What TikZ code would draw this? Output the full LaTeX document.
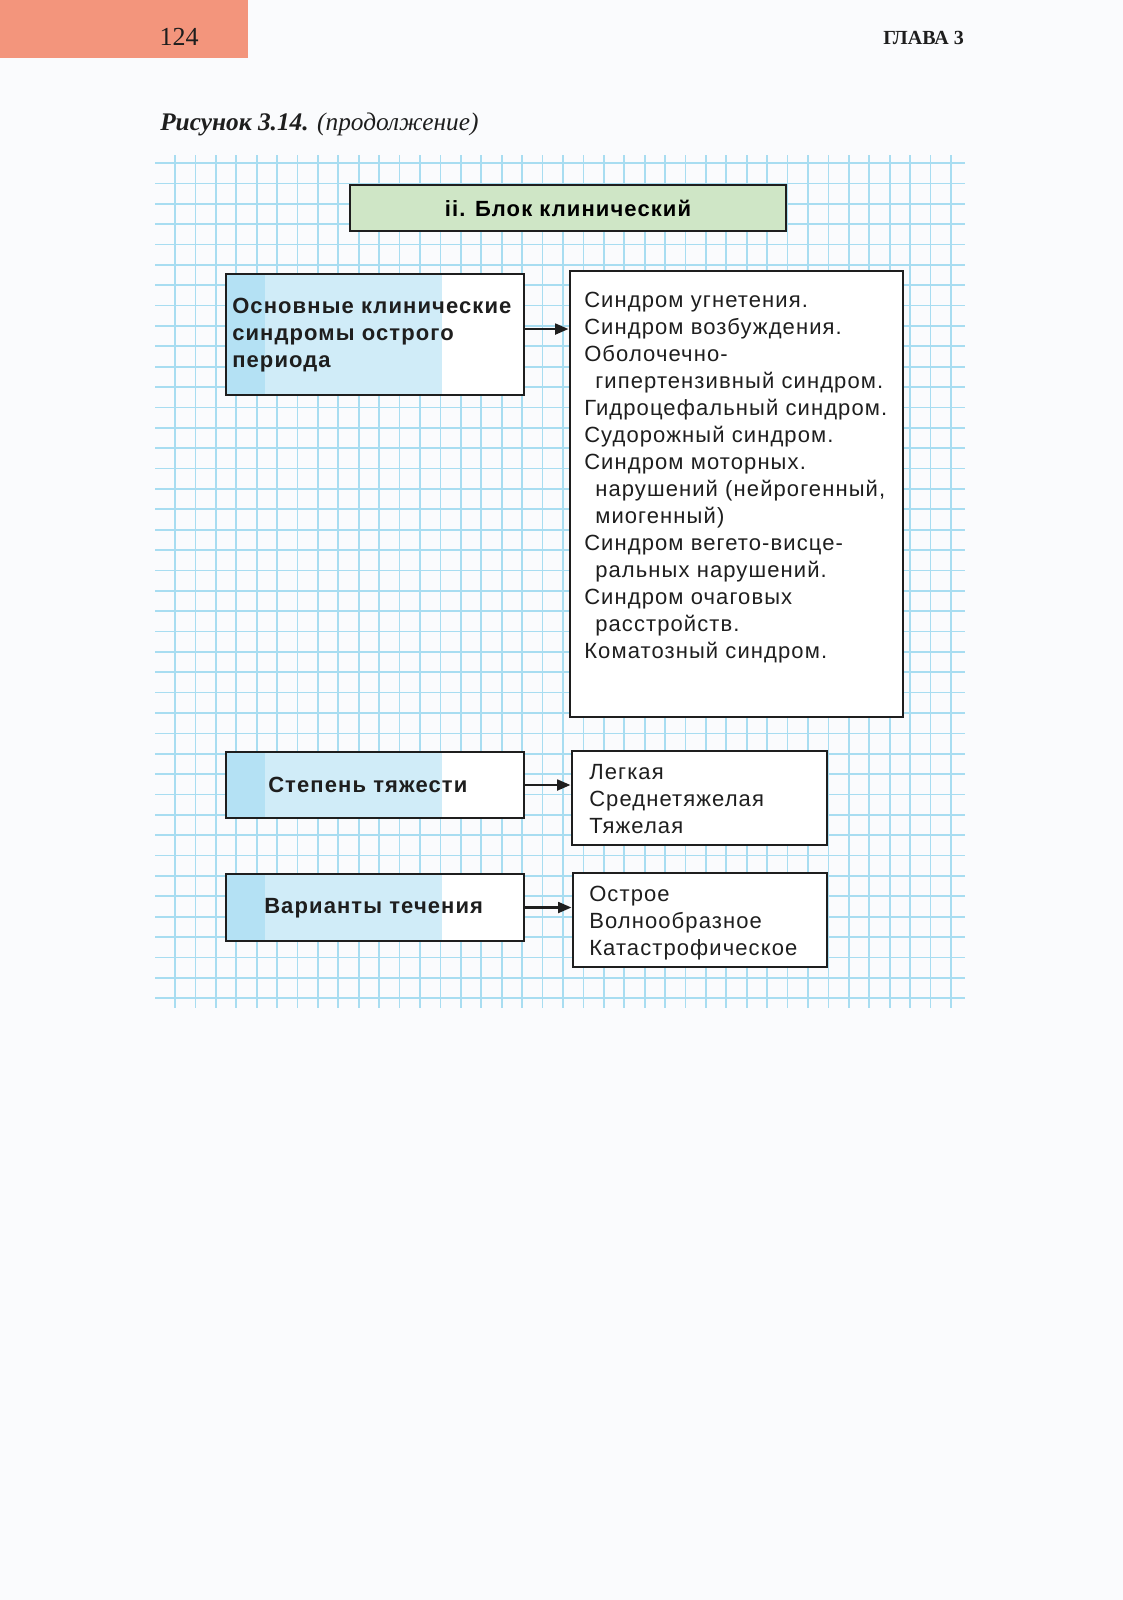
\documentclass[tikz,border=0pt]{standalone}
\usepackage{fontspec}
\setmainfont{Liberation Serif}
\newfontfamily\boxfont[LetterSpace=5]{Liberation Sans}
\usetikzlibrary{arrows.meta}
\definecolor{pagebg}{RGB}{250,251,253}
\definecolor{salmon}{RGB}{243,149,124}
\definecolor{gridblue}{RGB}{168,221,241}
\definecolor{stripdark}{RGB}{180,225,244}
\definecolor{striplight}{RGB}{208,236,248}
\definecolor{titlegreen}{RGB}{207,230,198}
\definecolor{inkc}{RGB}{30,30,30}
\newcommand{\bxf}{\boxfont\fontsize{16.5pt}{20.25pt}\selectfont}
\begin{document}
\begin{tikzpicture}[x=0.75pt,y=-0.75pt,
  gridline/.style={draw=gridblue,line width=1.3pt},
  frame/.style={draw=inkc,line width=2.2pt,inner sep=0pt,anchor=center},
  lbox/.style={frame,fill=white,minimum width=223.5pt,
    path picture={
      \fill[stripdark] (path picture bounding box.north west) rectangle ([xshift=29.25pt]path picture bounding box.south west);
      \fill[striplight] ([xshift=29.25pt]path picture bounding box.north west) rectangle ([xshift=162pt]path picture bounding box.south west);
    }},
  rbox/.style={frame,fill=white},
  txt/.style={inner sep=0pt,anchor=base west,text=inkc},
  arr/.style={draw=inkc,line width=2pt,-{Triangle[length=10pt,width=8pt]}}
]
\fill[pagebg] (0,0) rectangle (1123,1600);
% header
\fill[salmon] (0,0) rectangle (248,58);
\node[txt,anchor=base,font=\fontsize{19.5pt}{22pt}\selectfont] (pagenum) at (179,45) {124};
\node[txt,font=\fontsize{15pt}{17pt}\selectfont\bfseries] (chapter) at (883,44) {ГЛАВА 3};
\node[txt,font=\fontsize{19pt}{22pt}\selectfont] (caption) at (160,130) {\textbf{\textit{Рисунок 3.14.}} \textit{(продолжение)}};
% grid
\foreach \k in {0,...,38} \draw[gridline] ({175+20.42*\k},155) -- ({175+20.42*\k},1008);
\foreach \k in {0,...,41} \draw[gridline] (155,{163+20.37*\k}) -- (965,{163+20.37*\k});
% boxes
\node[frame,fill=titlegreen,minimum width=327pt,minimum height=34.5pt,font=\bxf\bfseries] (title) at (568,208) {ii. Блок клинический};
\node[lbox,minimum height=90.75pt] (b1) at (375,334.5) {};
\node[rbox,minimum width=249.75pt,minimum height=334.5pt] (r1) at (736.5,494) {};
\node[lbox,minimum height=49.5pt] (b2) at (375,785) {};
\node[rbox,minimum width=191.25pt,minimum height=70.5pt] (r2) at (699.5,798) {};
\node[lbox,minimum height=50.25pt] (b3) at (375,907.5) {};
\node[rbox,minimum width=190.5pt,minimum height=70.5pt] (r3) at (700,920) {};
% texts
\node[txt,font=\bxf\bfseries] (t1) at (232,313) {\parbox[t]{220pt}{\raggedright Основные клинические\\ синдромы острого\\ периода}};
\node[txt,font=\bxf\bfseries] (t2) at (268,792) {Степень тяжести};
\node[txt,font=\bxf\bfseries] (t3) at (264,913) {Варианты течения};
\node[txt,font=\bxf] (tr1) at (584,307) {\parbox[t]{245pt}{\raggedright
Синдром угнетения.\\
Синдром возбуждения.\\
Оболочечно-\\
\hspace*{8.25pt}гипертензивный синдром.\\
Гидроцефальный синдром.\\
Судорожный синдром.\\
Синдром моторных.\\
\hspace*{8.25pt}нарушений (нейрогенный,\\
\hspace*{8.25pt}миогенный)\\
Синдром вегето-висце-\\
\hspace*{8.25pt}ральных нарушений.\\
Синдром очаговых\\
\hspace*{8.25pt}расстройств.\\
Коматозный синдром.}};
\node[txt,font=\bxf] (tr2) at (589,779) {\parbox[t]{180pt}{\raggedright Легкая\\ Среднетяжелая\\ Тяжелая}};
\node[txt,font=\bxf] (tr3) at (589,901) {\parbox[t]{180pt}{\raggedright Острое\\ Волнообразное\\ Катастрофическое}};
% arrows
\draw[arr] ([yshift=4.1pt]b1.east) coordinate (a1) -- (a1 -| r1.west);
\draw[arr] (b2.east) -- (b2.east -| r2.west);
\draw[arr] (b3.east) -- (b3.east -| r3.west);
\end{tikzpicture}
\end{document}
